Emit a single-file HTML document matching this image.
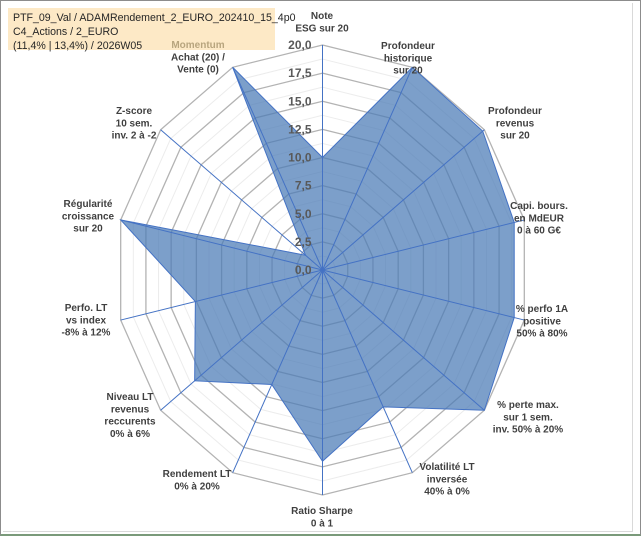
<!DOCTYPE html>
<html><head><meta charset="utf-8">
<style>
html,body{margin:0;padding:0;background:#fff;}
body{width:641px;height:536px;overflow:hidden;position:relative;font-family:"Liberation Sans",sans-serif;}
#frame{position:absolute;left:0;top:0;width:639px;height:533px;border:1px solid #8c8c8c;border-bottom:2px solid #7a9a7a;box-sizing:content-box;}
#inner{position:absolute;left:3px;top:3px;width:629px;height:528px;border-right:1px solid #d9d9d9;border-bottom:1px solid #d9d9d9;}
#title{position:absolute;left:8px;top:8px;width:267px;height:42px;background:#fde9c6;font-size:10.6px;line-height:14px;color:#262626;padding:3px 0 0 5px;box-sizing:border-box;white-space:nowrap;}
svg{position:absolute;left:0;top:0;z-index:2;}
</style></head><body>
<div id="frame"></div>
<div id="inner"></div>
<div id="title">PTF_09_Val / ADAMRendement_2_EURO_202410_15_4p0<br>C4_Actions / 2_EURO<br>(11,4% | 13,4%) / 2026W05</div>
<svg id="chart" width="641" height="536"></svg>
<script>
const categories = [
 ["Note","ESG sur 20"],
 ["Profondeur","historique","sur 20"],
 ["Profondeur","revenus","sur 20"],
 ["Capi. bours.","en MdEUR","0 à 60 G€"],
 ["% perfo 1A","positive","50% à 80%"],
 ["% perte max.","sur 1 sem.","inv. 50% à 20%"],
 ["Volatilité LT","inversée","40% à 0%"],
 ["Ratio Sharpe","0 à 1"],
 ["Rendement LT","0% à 20%"],
 ["Niveau LT","revenus","reccurents","0% à 6%"],
 ["Perfo. LT","vs index","-8% à 12%"],
 ["Régularité","croissance","sur 20"],
 ["Z-score","10 sem.","inv. 2 à -2"],
 ["Momentum","Achat (20) /","Vente (0)"]
];
const values = [10, 20, 19.8, 19, 19, 20, 13.5, 17, 11.3, 15.8, 12.6, 20, 2.1, 20];
const tickLabels = ["0,0","2,5","5,0","7,5","10,0","12,5","15,0","17,5","20,0"];
const tickValues = [0,2.5,5,7.5,10,12.5,15,17.5,20];
const labelPos = [[322,19],[408,49],[515,114],[539,209],[542,312],[528,408],[447,470],[322,514],[197,477],[130,400],[86,311],[88,207],[134,114],[198,48]];

const NS="http://www.w3.org/2000/svg";
const svg=document.getElementById('chart');
const cx=322.5, cy=270, RX=207, RY=225, MAX=20, N=categories.length;
function px(i,v){const a=i*2*Math.PI/N;return [cx+RX*(v/MAX)*Math.sin(a), cy-RY*(v/MAX)*Math.cos(a)];}
function mk(t,attrs){const e=document.createElementNS(NS,t);for(const k in attrs)e.setAttribute(k,attrs[k]);svg.appendChild(e);return e;}
function ring(v){let p=[];for(let i=0;i<N;i++)p.push(px(i,v).join(','));return p.join(' ');}
for(let v=1.25;v<MAX;v+=2.5){
 const e=mk('polygon',{points:ring(v),fill:'none',stroke:'#ececec','stroke-width':1});
 
 
}
tickValues.slice(1).forEach(v=>{
 const e=mk('polygon',{points:ring(v),fill:'none',stroke:'#b3b3b3','stroke-width':1.3});
 
 
});
let pts=values.map((v,i)=>px(i,v).join(',')).join(' ');
const area=mk('polygon',{points:pts,fill:'#4a7ab5','fill-opacity':0.72,stroke:'#4472c4','stroke-width':1});


for(let i=0;i<N;i++){
 const p=px(i,MAX);
 const e=mk('line',{x1:cx,y1:cy,x2:p[0],y2:p[1],stroke:'#4472c4','stroke-width':1});
 
 
}
tickValues.forEach((v,k)=>{
 const t=mk('text',{x:cx-11,y:cy-RY*v/MAX+4,'text-anchor':'end','font-size':12,'font-weight':'bold',fill:'#595959','font-family':'Liberation Sans, sans-serif'});
 t.textContent=tickLabels[k];
 
 
});
categories.forEach((lines,i)=>{
 const [x,y]=labelPos[i];
 lines.forEach((ln,j)=>{
  const t=mk('text',{x:x,y:y+j*12.3,'text-anchor':'middle','font-size':10,'font-weight':'bold',fill:(i===13&&j===0)?'#b8a57e':'#404040','font-family':'Liberation Sans, sans-serif'});
  t.textContent=ln;
  
  
 });
});
</script>
</body></html>
